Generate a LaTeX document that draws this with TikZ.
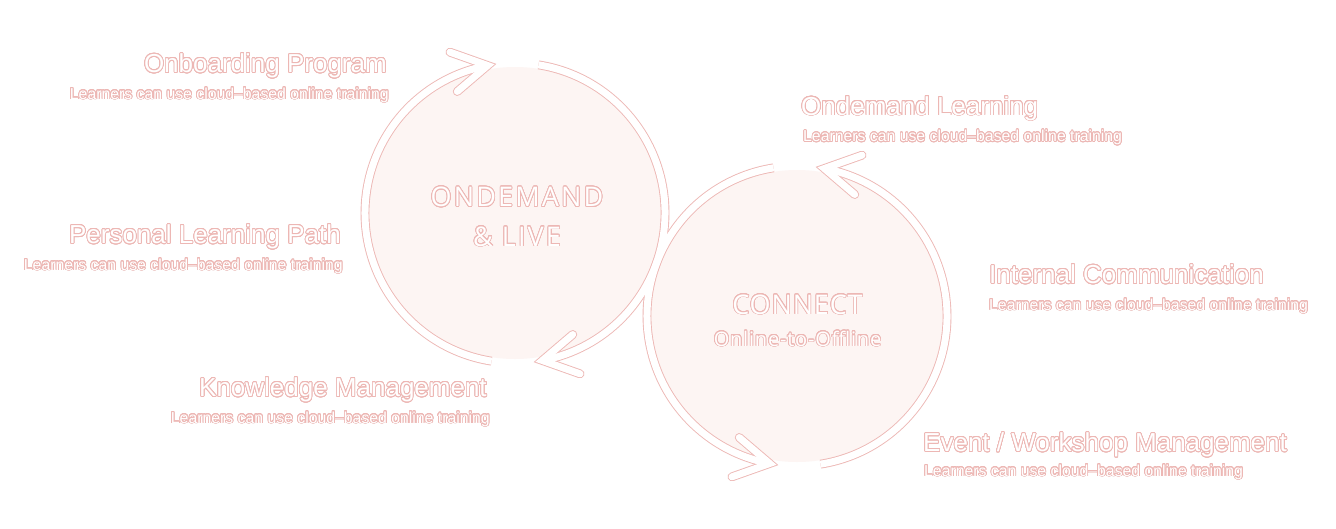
\documentclass[tikz,border=0pt]{standalone}
\usepackage{fontspec}
\setmainfont{Liberation Sans}
\newfontfamily\opensans{Open Sans}
\usepackage{contour}
\contourlength{0.75pt}
\contournumber{24}
\usetikzlibrary{calc}
\definecolor{pk}{HTML}{EDB7B4}
\definecolor{fillc}{HTML}{FDF5F3}
\newcommand\ol[1]{\contour{pk}{#1}}
\tikzset{
  head/.style={font=\fontsize{26}{30}\selectfont, inner sep=0pt, text=white},
  subtxt/.style={font=\fontsize{15.8}{18}\selectfont, inner sep=0pt, text=white},
  disc/.style={circle, fill=fillc, minimum size=292pt, inner sep=0pt},
  ringout/.style={draw=pk, line width=8.8pt},
  ringin/.style={draw=white, line width=7pt},
}
% #1 style, #2 circle node, #3 start angle, #4 end angle, #5 arm A, #6 arm B
\newcommand\ringarrow[6]{%
  \draw[#1, line cap=butt] ($(#2.center)+(#3:150)$) arc[start angle=#3, end angle=#4, radius=150];
  \draw[#1, line cap=round, line join=miter] ($(#2.center)+(#4:150)+(#5:40)$) -- ($(#2.center)+(#4:150)$) -- ($(#2.center)+(#4:150)+(#6:40)$);
}
\begin{document}
\begin{tikzpicture}[x=1pt,y=1pt]
\useasboundingbox (0,0) rectangle (1336,-528);
\fill[white] (0,0) rectangle (1336,-528);

% discs
\node[disc] (c1) at (515,-213) {};
\node[disc] (c2) at (797,-316) {};

% ring arrows: outline pass then white pass
\foreach \st in {ringout,ringin}{
  \ringarrow{\st}{c1}{261}{100.5}{160.5}{220.5}
  \ringarrow{\st}{c1}{81}{-79.5}{-19.5}{40.5}
  \ringarrow{\st}{c2}{-81}{79.5}{-40.5}{19.5}
  \ringarrow{\st}{c2}{99}{259.5}{139.5}{199.5}
}

% centre texts
\node[inner sep=0pt, anchor=base, text=white, font={\opensans\addfontfeatures{LetterSpace=8}\fontsize{27}{30}\selectfont}] (t1a) at (517,-206.5) {\ol{ONDEMAND}};
\node[inner sep=0pt, anchor=base, text=white, font={\opensans\addfontfeatures{LetterSpace=8}\fontsize{27}{30}\selectfont}] (t1b) at (517,-246) {\ol{\&~LIVE}};
\node[inner sep=0pt, anchor=base, text=white, font={\opensans\addfontfeatures{LetterSpace=3}\fontsize{27}{30}\selectfont}] (t2a) at (797.5,-314) {\ol{CONNECT}};
\node[inner sep=0pt, anchor=base, text=white, font={\opensans\addfontfeatures{LetterSpace=4}\fontsize{20}{24}\selectfont}] (t2b) at (797.5,-346) {\ol{Online-to-Offline}};

% left labels
\node[head, anchor=base east] (h1) at (387,-72.5) {\ol{Onboarding Program}};
\node[subtxt, anchor=base east] (s1) at (389,-99) {\ol{Learners can use cloud–based online training}};
\node[head, anchor=base east] (h2) at (341,-243.5) {\ol{Personal Learning Path}};
\node[subtxt, anchor=base east] (s2) at (343,-270) {\ol{Learners can use cloud–based online training}};
\node[head, anchor=base east] (h3) at (487,-396.5) {\ol{Knowledge Management}};
\node[subtxt, anchor=base east] (s3) at (490,-423) {\ol{Learners can use cloud–based online training}};

% right labels
\node[head, anchor=base west] (h4) at (801,-115) {\ol{Ondemand Learning}};
\node[subtxt, anchor=base west] (s4) at (803,-141.5) {\ol{Learners can use cloud–based online training}};
\node[head, anchor=base west] (h5) at (989,-283.5) {\ol{Internal Communication}};
\node[subtxt, anchor=base west] (s5) at (989,-310) {\ol{Learners can use cloud–based online training}};
\node[head, anchor=base west] (h6) at (923,-451.5) {\ol{Event / Workshop Management}};
\node[subtxt, anchor=base west] (s6) at (924,-476) {\ol{Learners can use cloud–based online training}};
\end{tikzpicture}
\end{document}
